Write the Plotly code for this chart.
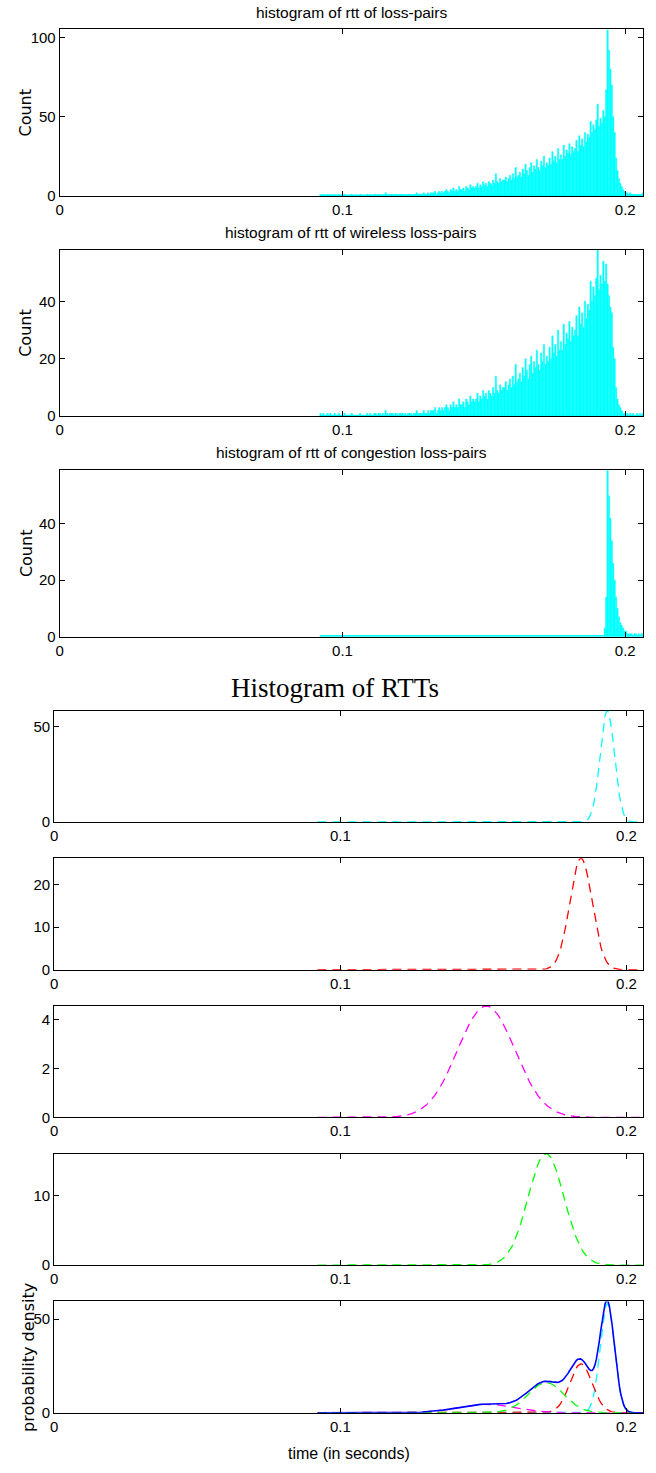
import numpy as np
import plotly.graph_objects as go

# ---------------- data ----------------
# histogram bins (seconds)
bin_start = 0.092
bin_width = 0.0005

wireless_counts = [
    1, 0, 1, 0, 0, 1, 0, 1, 0, 0,
    1, 0, 0, 1, 0, 0, 0, 1, 0, 0,
    0, 0, 1, 0, 0, 0, 0, 0, 1, 0,
    0, 0, 0, 1, 0, 1, 0, 0, 1, 1,
    0, 1, 1, 0, 1, 0, 2, 1, 0, 1,
    1, 1, 0, 1, 1, 0, 1, 1, 1, 0,
    1, 0, 1, 1, 1, 0, 1, 1, 2, 1,
    1, 1, 1, 2, 1, 1, 2, 1, 2, 2,
    2, 3, 1, 2, 3, 2, 3, 2, 3, 4,
    3, 2, 4, 3, 5, 3, 4, 3, 6, 4,
    4, 5, 3, 6, 5, 4, 7, 5, 6, 5,
    6, 8, 5, 7, 6, 9, 7, 8, 6, 9,
    8, 7, 10, 8, 14, 9, 8, 11, 9, 10,
    10, 12, 9, 11, 13, 10, 14, 11, 18, 12,
    13, 15, 12, 17, 14, 20, 16, 13, 18, 21,
    15, 19, 17, 23, 18, 16, 22, 19, 25, 18,
    21, 19, 24, 20, 28, 22, 25, 21, 30, 23,
    26, 23, 32, 25, 29, 27, 33, 26, 31, 28,
    30, 35, 28, 38, 32, 36, 31, 40, 34, 39,
    37, 47, 40, 45, 42, 48, 58, 44, 49, 46,
    54, 47, 53, 46, 42, 38, 36, 24, 20, 10,
    6, 4, 3, 2, 1, 1, 0, 1, 0, 1,
    0, 1, 0, 0, 1, 0, 1, 0, 1,
]

congestion_counts = [0] * 200 + [
    0, 3, 14, 59, 50, 42, 34, 26, 20, 14,
    10, 7, 5, 4, 3, 2, 2, 1, 1, 1,
    1, 0, 1, 1, 0, 1, 0, 1, 1,
]

# density curves sampled on a grid (seconds)
dens_x_coarse = np.round(np.arange(0.092, 0.1595, 0.001), 4)   # 0.092 .. 0.159
dens_x_fine = np.round(np.arange(0.160, 0.20625, 0.0005), 4)    # 0.160 .. 0.206
dens_x = np.concatenate([dens_x_coarse, dens_x_fine])

dens_cyan = [0] * 68 + [0] * 43 + [
    0.001, 0.002, 0.005, 0.012, 0.027, 0.058, 0.119, 0.236, 0.449, 0.820,
    1.442, 2.436, 3.953, 6.162, 9.231, 13.281, 18.363, 24.397, 31.137, 38.183,
    44.988, 50.927, 55.390, 57.882, 58.114, 56.059, 51.956, 46.266, 39.583, 32.538,
    25.699, 19.499, 14.216, 9.959, 6.702, 4.333, 2.692, 1.607, 0.922, 0.508,
    0.269, 0.137, 0.067, 0.031, 0.014, 0.006, 0.003, 0.001,
] + [0] * 2

dens_red = [0] * 68 + [0] * 13 + [
    0.001, 0.002, 0.003, 0.005, 0.009, 0.014, 0.024, 0.038, 0.060, 0.093,
    0.141, 0.212, 0.313, 0.455, 0.649, 0.912, 1.260, 1.718, 2.296, 3.020,
    3.907, 4.982, 6.241, 7.681, 9.310, 11.095, 13.027, 15.026, 17.046, 19.030,
    20.896, 22.584, 23.994, 25.082, 25.792, 26.091, 25.963, 25.414, 24.471, 23.179,
    21.597, 19.795, 17.849, 15.830, 13.812, 11.854, 10.007, 8.312, 6.790, 5.456,
    4.314, 3.355, 2.566, 1.932, 1.430, 1.041, 0.746, 0.525, 0.364, 0.248,
    0.167, 0.110, 0.071, 0.046, 0.029, 0.018, 0.011, 0.006, 0.004, 0.002,
    0.001,
] + [0] * 9

dens_magenta = [0] * 19 + [
    0.001, 0.002, 0.003, 0.005, 0.007, 0.010, 0.014, 0.020, 0.027, 0.037,
    0.050, 0.068, 0.090, 0.119, 0.155, 0.199, 0.255, 0.322, 0.404, 0.501,
    0.614, 0.747, 0.898, 1.070, 1.262, 1.474, 1.704, 1.950, 2.210, 2.479,
    2.754, 3.028, 3.297, 3.553, 3.792, 4.007, 4.191, 4.340, 4.450, 4.517,
    4.540, 4.517, 4.450, 4.340, 4.191, 4.007, 3.792, 3.553, 3.297,
] + [
    3.028, 2.891, 2.754, 2.616, 2.479, 2.344, 2.210, 2.079, 1.950, 1.825,
    1.704, 1.587, 1.474, 1.366, 1.262, 1.164, 1.070, 0.982, 0.898, 0.820,
    0.747, 0.678, 0.614, 0.555, 0.501, 0.450, 0.404, 0.361, 0.322, 0.287,
    0.255, 0.226, 0.199, 0.176, 0.155, 0.136, 0.119, 0.103, 0.090, 0.078,
    0.068, 0.059, 0.050, 0.043, 0.037, 0.032, 0.027, 0.023, 0.020, 0.017,
    0.014, 0.012, 0.010, 0.008, 0.007, 0.006, 0.005, 0.004, 0.003, 0.003,
    0.002, 0.002, 0.001, 0.001,
] + [0] * 29

dens_green = [0] * 55 + [
    0.007, 0.012, 0.022, 0.038, 0.066, 0.110, 0.179, 0.285, 0.441, 0.666,
    0.982, 1.412, 1.980,
] + [
    2.705, 3.130, 3.605, 4.120, 4.687, 5.290, 5.934, 6.622, 7.337, 8.076,
    8.841, 9.610, 10.380, 11.154, 11.896, 12.619, 13.292, 13.915, 14.484, 14.973,
    15.382, 15.709, 15.936, 16.068, 16.098, 16.027, 15.857, 15.589, 15.232, 14.784,
    14.265, 13.679, 13.027, 12.334, 11.598, 10.846, 10.077, 9.298, 8.531, 7.781,
    7.042, 6.342, 5.677, 5.041, 4.455, 3.906, 3.408, 2.958, 2.544, 2.179,
    1.855, 1.566, 1.315, 1.099, 0.910, 0.751, 0.614, 0.500, 0.405, 0.325,
    0.260, 0.206, 0.162, 0.127, 0.099, 0.077, 0.059, 0.045, 0.034, 0.026,
    0.019, 0.014, 0.011, 0.008, 0.006, 0.004, 0.003, 0.002, 0.002, 0.001,
    0.001,
] + [0] * 12

# axis limits and ticks
x_tick_vals = [0, 0.1, 0.2]
x_tick_text = ["0", "0.1", "0.2"]
y_max = [105.2, 58.0, 59.2, 58.3, 26.1, 4.54, 16.1, 59.4]
y_ticks = [[0, 50, 100], [0, 20, 40], [0, 20, 40], [0, 50], [0, 10, 20], [0, 2, 4], [0, 10], [0, 50]]
titles_small = ["histogram of rtt of loss-pairs",
                "histogram of rtt of wireless loss-pairs",
                "histogram of rtt of congestion loss-pairs"]
title_big = "Histogram of RTTs"

# ---------------- derived ----------------
wireless = np.array(wireless_counts, dtype=float)
congestion = np.array(congestion_counts, dtype=float)
total = wireless + congestion
nb = len(wireless)
centers = bin_start + (np.arange(nb) + 0.5) * bin_width
bin_end = bin_start + nb * bin_width
comp = {k: np.array(v, dtype=float) for k, v in
        [("cyan", dens_cyan), ("red", dens_red), ("magenta", dens_magenta), ("green", dens_green)]}
dens_sum = comp["cyan"] + comp["red"] + comp["magenta"] + comp["green"]

# ---------------- layout ----------------
W, H = 656, 1473


def px_x(v):
    return v / W


def px_y(v):
    return 1 - v / H


panel_px = [(29.5, 197.0), (251.0, 418.5), (472.5, 640.0),
            (714.5, 826.5), (863.0, 975.0), (1011.5, 1123.5), (1160.0, 1272.0), (1308.5, 1420.5)]
left_px = [56, 56, 56, 50.5, 50.5, 50.5, 50.5, 50.5]
right_px = 643
x_max = [0.2063] * 3 + [0.2058] * 5

TICK_FONT = dict(family="Liberation Sans Narrow, Arial Narrow, Liberation Sans, Arial, sans-serif",
                 size=15, color="black")
TITLE_FONT = dict(family="Liberation Sans Narrow, Arial Narrow, Liberation Sans, Arial, sans-serif",
                  size=15.5, color="black")
VT_FONT = dict(family="DejaVu Sans, Liberation Sans, sans-serif", size=16, color="black")

fig = go.Figure()
CYAN, RED, MAG, GRN, BLUE = "#00FFFF", "#FF0000", "#FF00FF", "#00FF00", "#0000FF"
DASH = "9px,6px"


def ax_names(i):
    s = "" if i == 0 else str(i + 1)
    return "x" + s, "y" + s


# histogram panels
for i, counts in enumerate([total, wireless, congestion]):
    xa, ya = ax_names(i)
    fig.add_trace(go.Bar(x=centers, y=counts, width=bin_width, xaxis=xa, yaxis=ya,
                         marker=dict(color=CYAN, line=dict(color=CYAN, width=0.4)),
                         hoverinfo="skip"))
    fig.add_trace(go.Scatter(x=[bin_start, bin_end], y=[0, 0], xaxis=xa, yaxis=ya, mode="lines",
                             line=dict(color=CYAN, width=3), hoverinfo="skip"))

# component density panels
for i, key, col in [(3, "cyan", CYAN), (4, "red", RED), (5, "magenta", MAG), (6, "green", GRN)]:
    xa, ya = ax_names(i)
    fig.add_trace(go.Scatter(x=dens_x, y=comp[key], xaxis=xa, yaxis=ya, mode="lines",
                             line=dict(color=col, width=1.3, dash=DASH), hoverinfo="skip"))

# mixture panel
xa, ya = ax_names(7)
for key, col in [("cyan", CYAN), ("red", RED), ("magenta", MAG), ("green", GRN)]:
    fig.add_trace(go.Scatter(x=dens_x, y=comp[key], xaxis=xa, yaxis=ya, mode="lines",
                             line=dict(color=col, width=1.3, dash=DASH), hoverinfo="skip"))
fig.add_trace(go.Scatter(x=dens_x, y=dens_sum, xaxis=xa, yaxis=ya, mode="lines",
                         line=dict(color=BLUE, width=1.6), hoverinfo="skip"))

layout = dict(width=W, height=H, margin=dict(l=0, r=0, t=0, b=0),
              paper_bgcolor="white", plot_bgcolor="white", showlegend=False, bargap=0)

for i in range(8):
    top, bot = panel_px[i]
    s = "" if i == 0 else str(i + 1)
    common = dict(ticks="inside", ticklen=5, tickwidth=1, tickcolor="black",
                  showline=True, linecolor="black", linewidth=1, mirror="ticks",
                  showgrid=False, zeroline=False, tickfont=TICK_FONT, fixedrange=True)
    layout["xaxis" + s] = dict(common, domain=[px_x(left_px[i]), px_x(right_px)], anchor="y" + s,
                               range=[0, x_max[i]], tickvals=x_tick_vals, ticktext=x_tick_text)
    layout["yaxis" + s] = dict(common, domain=[px_y(bot), px_y(top)], anchor="x" + s,
                               range=[0, y_max[i]], tickvals=y_ticks[i],
                               ticktext=[str(v) for v in y_ticks[i]])

annotations = []
title_y = [13.0, 233.5, 455.0]
for i in range(3):
    annotations.append(dict(text=titles_small[i], x=px_x((left_px[i] + right_px) / 2), y=px_y(title_y[i]),
                            xref="paper", yref="paper", xanchor="center", yanchor="middle",
                            showarrow=False, font=TITLE_FONT))
    top, bot = panel_px[i]
    annotations.append(dict(text="Count", x=px_x(22), y=px_y((top + bot) / 2), xref="paper", yref="paper",
                            xanchor="center", yanchor="middle", textangle=-90, showarrow=False,
                            font=VT_FONT))
annotations.append(dict(text=title_big, x=px_x(333), y=px_y(692), xref="paper", yref="paper",
                        xanchor="center", yanchor="middle", showarrow=False,
                        font=dict(family="Liberation Serif, Times New Roman, serif", size=27, color="black")))
top, bot = panel_px[7]
annotations.append(dict(text="probability density", x=px_x(24), y=px_y((top + bot) / 2),
                        xref="paper", yref="paper", xanchor="center", yanchor="middle",
                        textangle=-90, showarrow=False, font=VT_FONT))
annotations.append(dict(text="time (in seconds)", x=px_x((left_px[7] + right_px) / 2), y=px_y(1461),
                        xref="paper", yref="paper", xanchor="center", yanchor="middle",
                        showarrow=False, font=dict(TICK_FONT, size=16)))
layout["annotations"] = annotations

fig.update_layout(**layout)
# remove the default 8px page margin so the figure fills the window exactly
fig.write_html("out.html",
               config={"displayModeBar": False, "staticPlot": True},
               post_script="document.body.style.margin='0px';document.body.style.overflow='hidden';")
